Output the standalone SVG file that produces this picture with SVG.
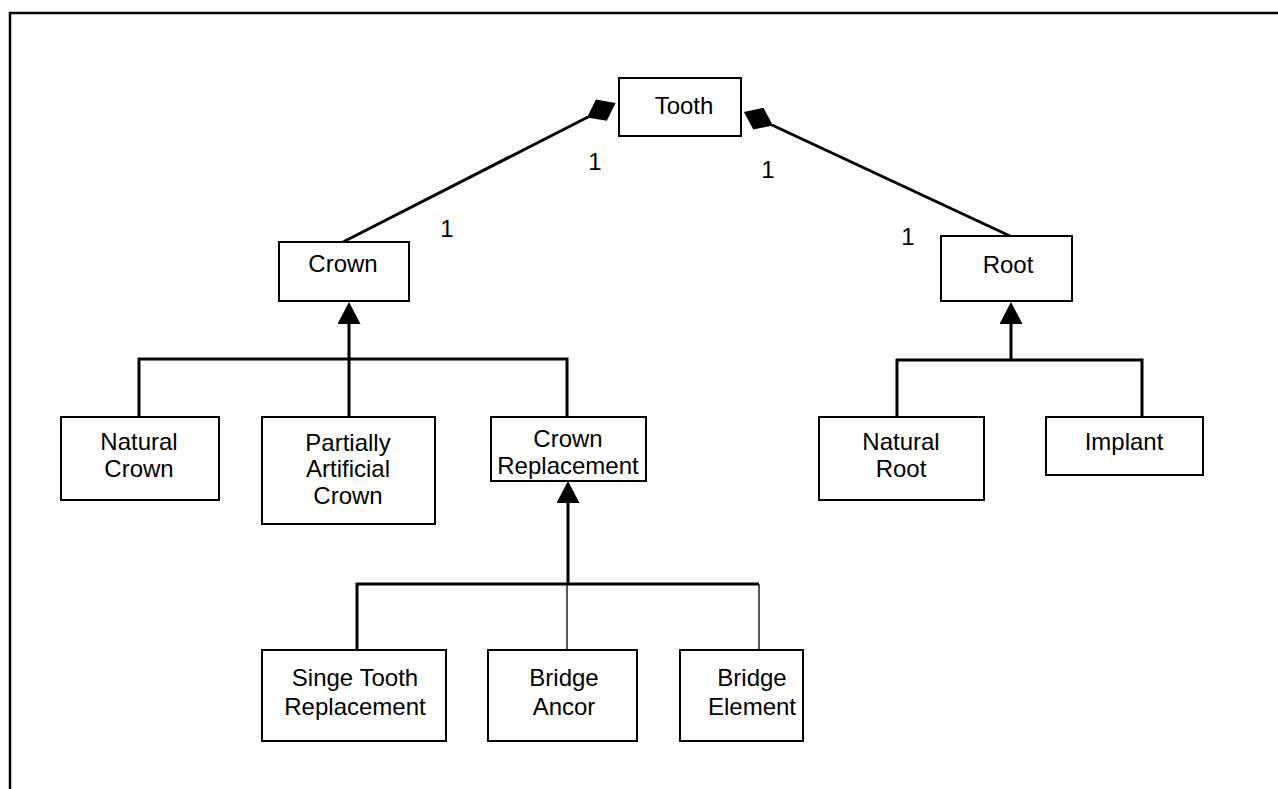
<svg xmlns="http://www.w3.org/2000/svg" width="1278" height="789" viewBox="0 0 1278 789">
<style>
.box{fill:#fff;stroke:#000;stroke-width:2}
.t{font-family:"Liberation Sans",Arial,sans-serif;font-size:24px;fill:#000;text-anchor:middle}
.c{fill:none;stroke:#000;stroke-width:3}
.thin{fill:none;stroke:#000;stroke-width:1.3}
</style>
<defs>
<marker id="tri" markerUnits="userSpaceOnUse" markerWidth="22" markerHeight="23" viewBox="0 0 22 23" refX="0" refY="11.5" orient="auto"><path d="M0,0 L22,11.5 L0,23 z" fill="#000"/></marker>
<marker id="dia" markerUnits="userSpaceOnUse" markerWidth="32" markerHeight="24" viewBox="0 0 32 24" refX="1" refY="12" orient="auto"><path d="M0,12 L16,0 L32,12 L16,24 z" fill="#000"/></marker>
</defs>
<rect x="10" y="13" width="1300" height="800" fill="none" stroke="#000" stroke-width="2.5"/>
<g id="connectors">
<path class="c" d="M343,242 L588,117" marker-end="url(#dia)"/>
<path class="c" d="M1010,236 L772,125" marker-end="url(#dia)"/>
<path class="c" d="M349,417 V324" marker-end="url(#tri)"/>
<path class="c" d="M139,417 V359 H567 V417"/>
<path class="c" d="M1011,360 V324" marker-end="url(#tri)"/>
<path class="c" d="M897,417 V360 H1142 V417"/>
<path class="c" d="M568,584 V503" marker-end="url(#tri)"/>
<path class="c" d="M357,650 V584 H759"/>
<path class="thin" d="M567,584 V650 M759,584 V650"/>
<text class="t" x="595" y="170">1</text>
<text class="t" x="447" y="237">1</text>
<text class="t" x="768" y="178">1</text>
<text class="t" x="908" y="245">1</text>
</g>
<g id="tooth"><rect class="box" x="619" y="78" width="122" height="58"/><text class="t" x="684" y="114">Tooth</text></g>
<g id="crown"><rect class="box" x="279" y="242" width="130" height="59"/><text class="t" x="343" y="272">Crown</text></g>
<g id="root"><rect class="box" x="941" y="236" width="131" height="65"/><text class="t" x="1008" y="273">Root</text></g>
<g id="natural-crown"><rect class="box" x="61" y="417" width="158" height="83"/><text class="t" x="139" y="450">Natural</text><text class="t" x="139" y="477">Crown</text></g>
<g id="partially-artificial-crown"><rect class="box" x="262" y="417" width="173" height="107"/><text class="t" x="348" y="451">Partially</text><text class="t" x="348" y="477">Artificial</text><text class="t" x="348" y="504">Crown</text></g>
<g id="crown-replacement"><rect class="box" x="491" y="417" width="155" height="64"/><text class="t" x="568" y="447">Crown</text><text class="t" x="568" y="474">Replacement</text></g>
<g id="natural-root"><rect class="box" x="819" y="417" width="165" height="83"/><text class="t" x="901" y="450">Natural</text><text class="t" x="901" y="477">Root</text></g>
<g id="implant"><rect class="box" x="1046" y="417" width="157" height="58"/><text class="t" x="1124" y="450">Implant</text></g>
<g id="single-tooth-replacement"><rect class="box" x="262" y="650" width="184" height="91"/><text class="t" x="355" y="686">Singe Tooth</text><text class="t" x="355" y="715">Replacement</text></g>
<g id="bridge-ancor"><rect class="box" x="488" y="650" width="149" height="91"/><text class="t" x="564" y="686">Bridge</text><text class="t" x="564" y="715">Ancor</text></g>
<g id="bridge-element"><rect class="box" x="680" y="650" width="123" height="91"/><text class="t" x="752" y="686">Bridge</text><text class="t" x="752" y="715">Element</text></g>
</svg>
